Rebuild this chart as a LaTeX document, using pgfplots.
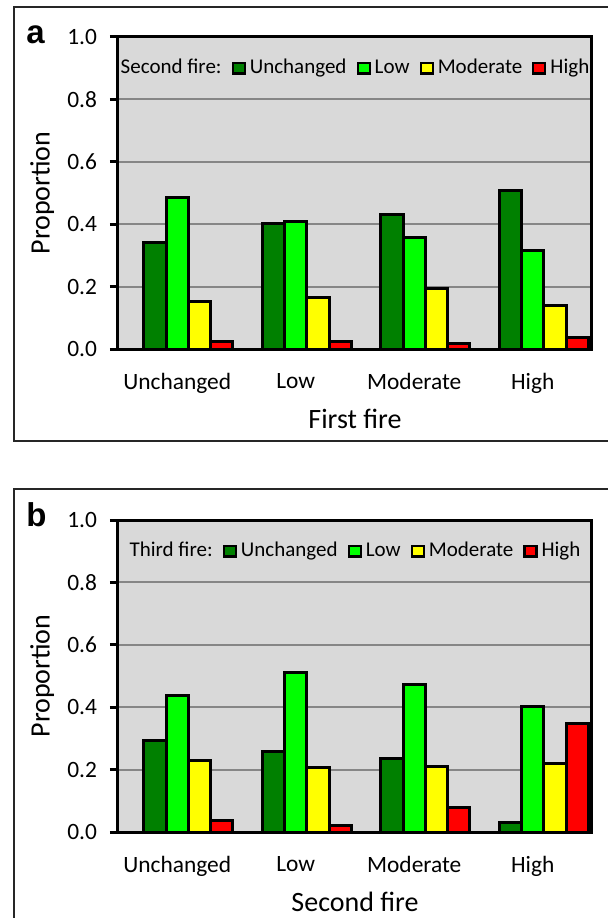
\documentclass[border=0pt]{standalone}
\usepackage{fontspec}
\setmainfont{Carlito}
\newfontfamily\labfont{Liberation Sans}
\usepackage{pgfplots}
\pgfplotsset{compat=1.18}
\definecolor{dkgreen}{RGB}{0,128,0}
\definecolor{ltgreen}{RGB}{0,255,0}
\definecolor{ylw}{RGB}{255,255,0}
\definecolor{rd}{RGB}{255,0,0}
\definecolor{bgc}{RGB}{217,217,217}
\definecolor{gridgray}{RGB}{134,134,134}
\definecolor{framec}{RGB}{38,38,38}

\pgfplotsset{
  mybar/.style={ybar, bar width=11.1pt, draw=black, line width=1.5pt,
    legend image code/.code={\draw[##1, line width=1.1pt, draw=black] (0pt,-2.6pt) rectangle (6pt,2.6pt);}},
  panel/.style={
    scale only axis, width=237pt, height=156pt, anchor=south west,
    xmin=-0.5, xmax=3.5, ymin=0, ymax=1,
    xtick={0,1,2,3}, xticklabels={Unchanged,Low,Moderate,High},
    ytick={0,0.2,0.4,0.6,0.8,1},
    ytick pos=left, xtick pos=bottom,
    yticklabel style={/pgf/number format/fixed, /pgf/number format/fixed zerofill, /pgf/number format/precision=1, xshift=-3pt},
    xticklabel style={yshift=-4.5pt},
    /pgf/number format/assume math mode=true,
    tick label style={font=\fontsize{11.7}{14}\selectfont, text=black},
    tick align=outside, major tick length=4pt,
    ytick style={line width=1.5pt, black},
    xtick style={draw=none},
    axis line style={line width=1.5pt, black},
    axis background/.style={fill=bgc},
    ymajorgrids, major grid style={line width=1pt, gridgray},
    label style={font=\fontsize{14}{16}\selectfont},
    ylabel style={at={(axis description cs:-0.160,0.5)}, anchor=center},
    xlabel style={at={(axis description cs:0.5,-0.256)}, anchor=base},
    legend style={at={(0.5,0.9)}, anchor=center, draw=none, fill=none,
      font=\fontsize{10.5}{12}\selectfont,
      /tikz/every even column/.append style={column sep=3pt}},
    legend columns=-1,
  }
}

\begin{document}
\begin{tikzpicture}[x=0.5pt,y=0.5pt]
\useasboundingbox (0,0) rectangle (608,918);

% Panel a
\begin{axis}[panel, at={(59pt,284.5pt)}, xlabel={First fire}, ylabel={Proportion}]
\addlegendimage{empty legend}\addlegendentry{Second fire:}
\addplot[mybar, fill=dkgreen, bar shift=-11.1pt] coordinates {(0,0.341) (1,0.401) (2,0.432) (3,0.507)};
\addlegendentry{Unchanged}
\addplot[mybar, fill=ltgreen, bar shift=0pt] coordinates {(0,0.484) (1,0.408) (2,0.356) (3,0.316)};
\addlegendentry{Low}
\addplot[mybar, fill=ylw, bar shift=11.1pt] coordinates {(0,0.151) (1,0.166) (2,0.193) (3,0.140)};
\addlegendentry{Moderate}
\addplot[mybar, fill=rd, bar shift=22.2pt] coordinates {(0,0.024) (1,0.024) (2,0.018) (3,0.036)};
\addlegendentry{High}
\end{axis}

% Panel b
\begin{axis}[panel, at={(59pt,43pt)}, xlabel={Second fire}, ylabel={Proportion}]
\addlegendimage{empty legend}\addlegendentry{Third fire:}
\addplot[mybar, fill=dkgreen, bar shift=-11.1pt] coordinates {(0,0.293) (1,0.257) (2,0.235) (3,0.032)};
\addlegendentry{Unchanged}
\addplot[mybar, fill=ltgreen, bar shift=0pt] coordinates {(0,0.436) (1,0.512) (2,0.472) (3,0.401)};
\addlegendentry{Low}
\addplot[mybar, fill=ylw, bar shift=11.1pt] coordinates {(0,0.229) (1,0.207) (2,0.211) (3,0.218)};
\addlegendentry{Moderate}
\addplot[mybar, fill=rd, bar shift=22.2pt] coordinates {(0,0.038) (1,0.021) (2,0.078) (3,0.349)};
\addlegendentry{High}
\end{axis}

% frames
\draw[framec, line width=1pt] (608,918-7) -- (14,918-7) -- (14,918-441) -- (608,918-441);
\draw[framec, line width=1pt] (608,918-489) -- (14,918-489) -- (14,0);
\node[anchor=base west, inner sep=0pt, font=\labfont\bfseries\fontsize{16.5}{18}\selectfont] at (26,918-44) {a};
\node[anchor=base west, inner sep=0pt, font=\labfont\bfseries\fontsize{16.5}{18}\selectfont] at (26,918-527) {b};
\end{tikzpicture}
\end{document}
